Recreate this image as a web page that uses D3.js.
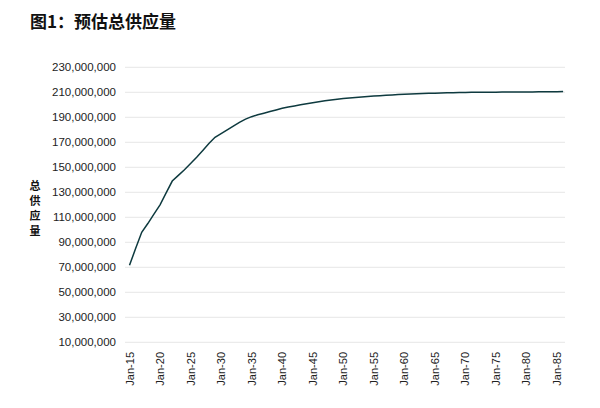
<!DOCTYPE html><html><head><meta charset="utf-8"><script src="https://cdn.jsdelivr.net/npm/d3@7"></script>
<style>body{margin:0;background:#fff}</style></head><body><svg id="c" width="600" height="408"></svg>
<script>
const years=d3.range(2015,2087);
const supply=[71.6,85,98,105,112.5,120,129.5,139,143.5,148,153,158,163.5,169,174,177,180,183,186,188.5,190.5,192,193.3,194.6,195.9,197.2,198.2,199.1,200,200.8,201.7,202.5,203.2,203.8,204.4,205,205.4,205.8,206.2,206.6,207,207.3,207.6,207.9,208.2,208.5,208.7,208.85,209,209.15,209.3,209.45,209.6,209.7,209.8,209.9,209.95,210,210.05,210.1,210.1,210.15,210.2,210.2,210.25,210.3,210.3,210.35,210.4,210.45,210.5,210.55].map(v=>v*1e6);
const yTicks=d3.range(10e6,230e6+1,20e6);
const xTickYears=d3.range(2015,2086,5);
const axisLabel=["总","供","应","量"];
const svg=d3.select("#c");
const font="'Liberation Sans',Arial,sans-serif";
const x=d3.scaleLinear().domain([2015,2085]).range([129.5,557]);
const y=d3.scaleLinear().domain([10e6,230e6]).range([342.3,67.3]);
svg.append("text").attr("x",30).attr("y",28).attr("font-family","'Noto Sans CJK SC'").attr("font-weight","bold").attr("font-size",17).attr("fill","#111").text("图1：预估总供应量");
svg.append("g").selectAll("line").data(yTicks).join("line").attr("x1",125).attr("x2",565).attr("y1",d=>y(d)).attr("y2",d=>y(d)).attr("stroke","#e6e6e6");
svg.append("g").selectAll("text").data(yTicks).join("text").attr("x",116).attr("y",d=>y(d)+4).attr("text-anchor","end").attr("font-family",font).attr("font-size",11.5).attr("fill","#222").text(d=>d3.format(",")(d));
svg.append("g").selectAll("text").data(xTickYears).join("text").attr("transform",d=>`translate(${x(d)+4},352) rotate(-90)`).attr("text-anchor","end").attr("font-family",font).attr("font-size",11).attr("fill","#222").text(d=>"Jan-"+String(d).slice(2));
svg.append("g").selectAll("text").data(axisLabel).join("text").attr("x",35).attr("y",(d,i)=>190+i*15).attr("text-anchor","middle").attr("font-family","'Noto Sans CJK SC'").attr("font-weight","bold").attr("font-size",11).attr("fill","#111").text(d=>d);
svg.append("path").datum(years.map((yr,i)=>[yr,supply[i]])).attr("fill","none").attr("stroke","#0e3a3f").attr("stroke-width",1.5).attr("d",d3.line().x(d=>x(d[0])).y(d=>y(d[1])));
</script></body></html>
